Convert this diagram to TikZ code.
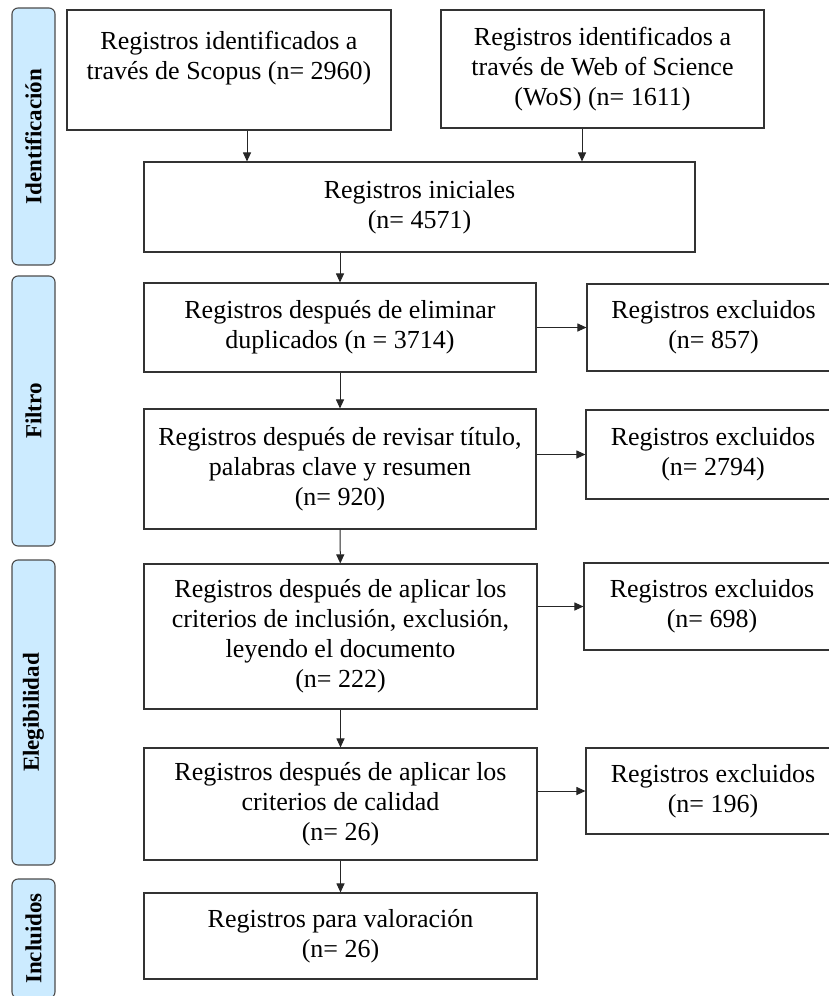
\documentclass[tikz,border=0pt]{standalone}
\usepackage{fontspec}
\setmainfont{Liberation Serif}
\usetikzlibrary{arrows.meta}
\definecolor{fase}{HTML}{CCEBFF}

\begin{document}
\begin{tikzpicture}[x=1pt, y=-1pt,
        caja/.style={draw=black!80, line width=1.1pt, align=center, inner sep=0pt, font=\fontsize{26}{30}\selectfont},
        etapa/.style={draw=black!70, line width=1.1pt, fill=fase, rounded corners=6pt, rotate=90, inner sep=0pt, minimum height=43pt, font=\fontsize{23}{26}\selectfont\bfseries},
        flecha/.style={line width=1pt, draw=black!85, -{Triangle[length=9pt, width=8pt]}}]
        \clip (0, 0) rectangle (829, 996);

        \node[etapa, minimum width=257pt] (identificacion) at (33.5, 136.5) {Identificación};
        \node[etapa, minimum width=270pt] (filtro) at (33.5, 411) {Filtro};
        \node[etapa, minimum width=305pt] (elegibilidad) at (33.5, 712.5) {Elegibilidad};
        \node[etapa, minimum width=119pt] (incluidos) at (33.5, 938.5) {Incluidos};

        \node[caja, minimum width=324pt, minimum height=120pt] (scopus) at (229, 70) {Registros identificados a\\ través de Scopus (n= 2960)\\ \mbox{}};
        \node[caja, minimum width=323pt, minimum height=118pt] (wos) at (602.5, 69) {Registros identificados a\\ través de Web of Science\\ (WoS) (n= 1611)};
        \node[caja, minimum width=551pt, minimum height=90pt] (iniciales) at (419.5, 207) {Registros iniciales\\ (n= 4571)};
        \node[caja, minimum width=392pt, minimum height=89pt] (duplicados) at (340, 327.5) {Registros después de eliminar\\ duplicados (n = 3714)};
        \node[caja, minimum width=392pt, minimum height=120pt] (titulo) at (340, 469) {Registros después de revisar título,\\ palabras clave y resumen\\ (n= 920)};
        \node[caja, minimum width=393pt, minimum height=145pt] (criterios) at (340.5, 636.5) {Registros después de aplicar los\\ criterios de inclusión, exclusión,\\ leyendo el documento\\ (n= 222)};
        \node[caja, minimum width=393pt, minimum height=112pt] (calidad) at (340.5, 804) {Registros después de aplicar los\\ criterios de calidad\\ (n= 26)};
        \node[caja, minimum width=393pt, minimum height=86pt] (valoracion) at (340.5, 936) {Registros para valoración\\ (n= 26)};

        \node[caja, minimum width=253pt, minimum height=87pt] (excl1) at (713.5, 327.5) {Registros excluidos\\ (n= 857)};
        \node[caja, minimum width=254pt, minimum height=89pt] (excl2) at (713, 454.5) {Registros excluidos\\ (n= 2794)};
        \node[caja, minimum width=256pt, minimum height=87pt] (excl3) at (712, 606.5) {Registros excluidos\\ (n= 698)};
        \node[caja, minimum width=254pt, minimum height=86pt] (excl4) at (713, 791) {Registros excluidos\\ (n= 196)};

        \draw[flecha] ([xshift=18pt]scopus.south) -- ([xshift=18pt]scopus.south |- iniciales.north);
        \draw[flecha] ([xshift=-20.5pt]wos.south) -- ([xshift=-20.5pt]wos.south |- iniciales.north);
        \draw[flecha] (duplicados.north |- iniciales.south) -- (duplicados.north);
        \draw[flecha] (duplicados) -- (titulo);
        \draw[flecha] (titulo) -- (criterios);
        \draw[flecha] (criterios) -- (calidad);
        \draw[flecha] (calidad) -- (valoracion);

        \draw[flecha] (duplicados.east |- excl1.west) -- (excl1.west);
        \draw[flecha] (titulo.east |- excl2.west) -- (excl2.west);
        \draw[flecha] (criterios.east |- excl3.west) -- (excl3.west);
        \draw[flecha] (calidad.east |- excl4.west) -- (excl4.west);
    \end{tikzpicture}
\end{document}
